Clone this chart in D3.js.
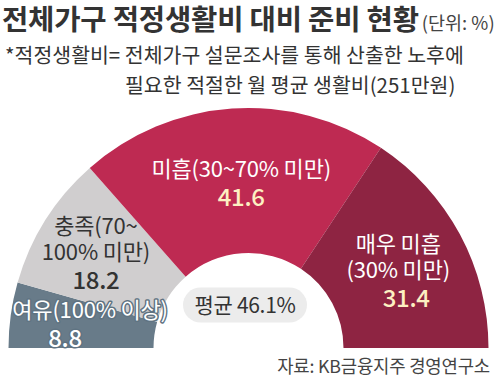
<!DOCTYPE html>
<html>
<head>
<meta charset="utf-8">
<script src="https://cdn.jsdelivr.net/npm/d3@7"></script>
<style>
  body { margin: 0; background: #fff; }
  svg { display: block; font-family: "Noto Sans CJK KR", "Noto Sans", sans-serif; }
</style>
</head>
<body>
<div id="chart"></div>
<script>
// data
const categories = ["여유", "충족", "미흡", "매우 미흡"]
const labelLines = [["여유(100% 이상)"], ["충족(70~", "100% 미만)"], ["미흡(30~70% 미만)"], ["매우 미흡", "(30% 미만)"]]
const values = [8.8, 18.2, 41.6, 31.4]
const average = 46.1
const titleText = "전체가구 적정생활비 대비 준비 현황"
const unitText = "(단위: %)"
const noteLines = ["*적정생활비= 전체가구 설문조사를 통해 산출한 노후에", "필요한 적절한 월 평균 생활비(251만원)"]
const sourceText = "자료: KB금융지주 경영연구소"

const width = 500, height = 378
const cx = 248.5, cy = 348
const outerR = 240, innerR = 95

// styles per segment
const fills = ["#687b89", "#d0cecf", "#be2a52", "#8e2442"]
const textFill = ["#fff", "#333", "#fff", "#fff"]
const numFill = ["#fff", "#333", "#fdf0c2", "#fdf0c2"]
const textStroke = ["#5f7382", null, null, null]
// label placement tweaks
const labelR = [160, 178, 164, 170]
const labelShift = [[0, 0], [-2, 1], [4, 0], [0, 5]]
const numShift = [-25, 0, 0, 8]

const svg = d3.select("#chart").append("svg")
    .attr("width", width)
    .attr("height", height)

// title
const title = svg.append("text")
    .attr("x", 2).attr("y", 29.5)
    .attr("fill", "#333")
title.append("tspan")
    .attr("font-size", 28.6).attr("font-weight", 700)
    .attr("letter-spacing", -0.2)
    .text(titleText)
title.append("tspan")
    .attr("dx", 3)
    .attr("font-size", 18.5).attr("fill", "#444")
    .text(unitText)

svg.selectAll("text.note")
    .data(noteLines)
    .join("text")
    .attr("class", "note")
    .attr("x", (d, i) => i === 0 ? 5 : 125)
    .attr("y", (d, i) => 63 + i * 30)
    .attr("font-size", 20.5)
    .attr("fill", "#333")
    .text(d => d)

// half donut
const pie = d3.pie().sort(null).startAngle(-Math.PI / 2).endAngle(Math.PI / 2)
const arcs = pie(values)
const arc = d3.arc().innerRadius(innerR).outerRadius(outerR)

const g = svg.append("g").attr("transform", `translate(${cx},${cy})`)

g.selectAll("path")
    .data(arcs)
    .join("path")
    .attr("d", arc)
    .attr("fill", (d, i) => fills[i])

// labels
const labels = g.selectAll("g.label")
    .data(arcs)
    .join("g")
    .attr("class", "label")
    .attr("transform", (d, i) => {
        const [x, y] = d3.arc().innerRadius(labelR[i]).outerRadius(labelR[i]).centroid(d)
        return `translate(${x + labelShift[i][0]},${y + labelShift[i][1]})`
    })

labels.each(function(d, i) {
    const lines = labelLines[i]
    const n = lines.length
    const total = (n - 1) * 26 + 29
    const first = -total / 2 + 7
    const sel = d3.select(this)
    lines.forEach((t, j) => {
        const txt = sel.append("text")
            .attr("text-anchor", "middle")
            .attr("y", first + j * 26)
            .attr("font-size", 22)
            .attr("letter-spacing", -0.2)
            .attr("fill", textFill[i])
            .text(t)
        if (textStroke[i]) txt.attr("stroke", textStroke[i]).attr("stroke-width", 3).attr("paint-order", "stroke").attr("stroke-linejoin", "round")
    })
    const num = sel.append("text")
        .attr("text-anchor", "middle")
        .attr("x", numShift[i])
        .attr("y", first + (n - 1) * 26 + 29)
        .attr("font-size", 24)
        .attr("font-weight", 500)
        .attr("letter-spacing", -0.3)
        .attr("fill", numFill[i])
        .text(d3.format(".1f")(values[i]))
    if (textStroke[i]) num.attr("stroke", textStroke[i]).attr("stroke-width", 3).attr("paint-order", "stroke").attr("stroke-linejoin", "round")
})

// average pill
const pill = g.append("g").attr("transform", "translate(-3.5,-43)")
pill.append("rect")
    .attr("x", -62).attr("y", -17.5)
    .attr("width", 124).attr("height", 35)
    .attr("rx", 17.5)
    .attr("fill", "#ececec")
pill.append("text")
    .attr("text-anchor", "middle")
    .attr("y", 8)
    .attr("font-size", 21)
    .attr("letter-spacing", -0.3)
    .attr("fill", "#333")
    .text(`평균 ${average}%`)

// source
svg.append("text")
    .attr("x", 490).attr("y", 373)
    .attr("text-anchor", "end")
    .attr("font-size", 17.8)
    .attr("letter-spacing", -0.2)
    .attr("fill", "#444")
    .text(sourceText)
</script>
</body>
</html>
